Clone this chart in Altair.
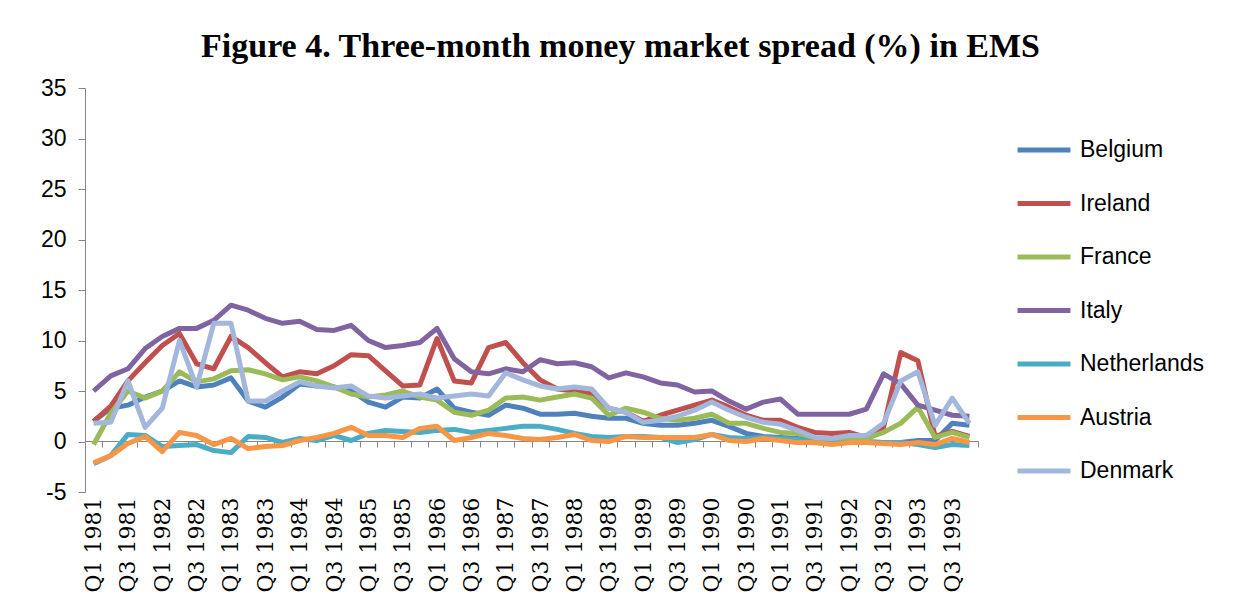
import altair as alt
import pandas as pd

quarters = [f"Q{q} {y}" for y in range(1981, 1994) for q in range(1, 5)]
countries = ["Belgium", "Ireland", "France", "Italy", "Netherlands", "Austria", "Denmark"]
colors = ["#4F81BD", "#C0504D", "#9BBB59", "#8064A2", "#4BACC6", "#F79646", "#A2B7DB"]

belgium = [2.0, 3.3, 3.6, 4.4, 5.0, 6.0, 5.4, 5.6, 6.3, 4.0, 3.4, 4.4, 5.7, 5.5, 5.4, 5.0,
           3.9, 3.4, 4.4, 4.3, 5.2, 3.3, 2.9, 2.6, 3.6, 3.3, 2.7, 2.7, 2.8, 2.5, 2.3, 2.3,
           1.8, 1.6, 1.6, 1.8, 2.1, 1.5, 0.8, 0.5, 0.4, 0.3, 0.1, 0.0, 0.0, 0.0, -0.1, -0.1,
           0.1, 0.1, 1.8, 1.6]
ireland = [2.0, 3.5, 6.0, 7.8, 9.5, 10.7, 7.7, 7.2, 10.4, 9.3, 7.8, 6.4, 6.9, 6.7, 7.5, 8.6,
           8.5, 7.0, 5.5, 5.6, 10.2, 6.0, 5.8, 9.3, 9.8, 7.8, 6.1, 5.2, 5.0, 4.7, 3.3, 2.9,
           2.0, 2.6, 3.1, 3.6, 4.1, 3.4, 2.6, 2.1, 2.1, 1.4, 0.9, 0.8, 0.9, 0.4, 1.4, 8.8,
           8.0, 0.5, 1.0, 0.5]
france = [-0.3, 2.8, 5.0, 4.3, 5.0, 6.9, 5.9, 6.2, 7.0, 7.1, 6.7, 6.1, 6.4, 6.0, 5.4, 4.7,
          4.4, 4.6, 5.0, 4.4, 4.1, 2.9, 2.6, 3.1, 4.3, 4.4, 4.1, 4.4, 4.7, 4.3, 2.6, 3.3,
          2.9, 2.3, 2.1, 2.3, 2.7, 1.8, 1.8, 1.3, 0.9, 0.8, 0.3, 0.1, 0.2, 0.3, 0.9, 1.8,
          3.4, 0.4, 0.9, 0.4]
italy = [5.0, 6.5, 7.2, 9.2, 10.4, 11.2, 11.2, 12.0, 13.5, 13.0, 12.2, 11.7, 11.9, 11.1, 11.0, 11.5,
         10.0, 9.3, 9.5, 9.8, 11.2, 8.2, 6.9, 6.7, 7.2, 6.9, 8.1, 7.7, 7.8, 7.4, 6.3, 6.8,
         6.4, 5.8, 5.6, 4.9, 5.0, 4.0, 3.2, 3.9, 4.2, 2.7, 2.7, 2.7, 2.7, 3.2, 6.7, 5.7,
         3.6, 3.1, 2.6, 2.5]
netherlands = [-2.2, -1.4, 0.7, 0.6, -0.5, -0.4, -0.3, -0.9, -1.1, 0.5, 0.4, -0.1, 0.3, 0.1, 0.6, 0.1,
               0.8, 1.1, 1.0, 0.9, 1.1, 1.2, 0.9, 1.1, 1.3, 1.5, 1.5, 1.2, 0.8, 0.5, 0.4, 0.5,
               0.5, 0.4, -0.1, 0.2, 0.7, 0.4, 0.3, 0.4, 0.3, 0.2, -0.1, -0.2, -0.1, -0.1, -0.1, -0.1,
               -0.3, -0.6, -0.3, -0.4]
austria = [-2.1, -1.4, -0.2, 0.5, -1.0, 0.9, 0.6, -0.3, 0.3, -0.7, -0.5, -0.4, 0.1, 0.4, 0.8, 1.4,
           0.6, 0.6, 0.4, 1.3, 1.5, 0.1, 0.4, 0.8, 0.6, 0.3, 0.2, 0.4, 0.7, 0.1, 0.0, 0.5,
           0.4, 0.4, 0.4, 0.4, 0.7, 0.1, 0.0, 0.3, 0.1, -0.1, -0.1, -0.3, -0.1, -0.1, -0.2, -0.3,
           -0.1, -0.3, 0.3, -0.1]
denmark = [1.8, 1.9, 6.0, 1.4, 3.3, 10.0, 5.4, 11.7, 11.7, 4.0, 4.0, 5.0, 5.9, 5.5, 5.3, 5.5,
           4.5, 4.3, 4.5, 4.7, 4.3, 4.5, 4.7, 4.5, 6.8, 6.1, 5.5, 5.2, 5.4, 5.2, 3.3, 2.9,
           1.9, 2.1, 2.5, 3.1, 3.9, 3.1, 2.4, 1.9, 1.7, 1.1, 0.4, 0.3, 0.6, 0.6, 1.8, 6.0,
           6.9, 1.6, 4.3, 1.8]

y_ticks = [-5, 0, 5, 10, 15, 20, 25, 30, 35]
series = [belgium, ireland, france, italy, netherlands, austria, denmark]

rows = []
for c, vals in zip(countries, series):
    for q, v in zip(quarters, vals):
        rows.append({"Quarter": q, "Country": c, "Spread": v})
df = pd.DataFrame(rows)

label_expr = ("substring(datum.label, 0, 2) == 'Q1' || substring(datum.label, 0, 2) == 'Q3'"
              " ? datum.label : ''")

chart = alt.Chart(df).mark_line(strokeWidth=5, strokeJoin="round").encode(
    x=alt.X("Quarter:N", sort=quarters, bandPosition=0.5,
            scale=alt.Scale(type="band", paddingInner=0, paddingOuter=0),
            axis=alt.Axis(title=None, labelAngle=-90, labelExpr=label_expr, tickBand="extent",
                          offset=-51, labelPadding=50, tickSize=6, domainColor="#868686",
                          tickColor="#868686", labelFont="DejaVu Serif", labelFontSize=22,
                          labelColor="black", grid=False, labelOverlap=False, labelBound=False)),
    y=alt.Y("Spread:Q", scale=alt.Scale(domain=[-5, 35], nice=False, zero=False),
            axis=alt.Axis(title=None, values=y_ticks, tickSize=7, domainColor="#868686",
                          tickColor="#868686", labelFont="Liberation Sans", labelFontSize=23,
                          labelColor="black", labelPadding=12, grid=False,
                          labelExpr="'' + datum.value")),
    color=alt.Color("Country:N", sort=countries,
                    scale=alt.Scale(domain=countries, range=colors),
                    legend=alt.Legend(title=None, orient="none", legendX=930, legendY=33,
                                      symbolType="stroke", symbolSize=2800, symbolStrokeWidth=5,
                                      labelFont="Liberation Sans", labelFontSize=23,
                                      labelColor="black", rowPadding=12.5, labelOffset=7,
                                      padding=0, labelLimit=300)),
).properties(
    width=893, height=404,
    title=alt.Title("Figure 4. Three-month money market spread (%) in EMS",
                    font="Liberation Serif", fontSize=34, fontWeight="bold", color="black",
                    anchor="middle", frame="group", dx=89, offset=13),
    padding={"left": 77, "top": 80, "right": 250, "bottom": 112},
    autosize="none",
).configure_view(strokeWidth=0)

chart.save("out.html", embed_options={"renderer": "svg", "actions": False})
